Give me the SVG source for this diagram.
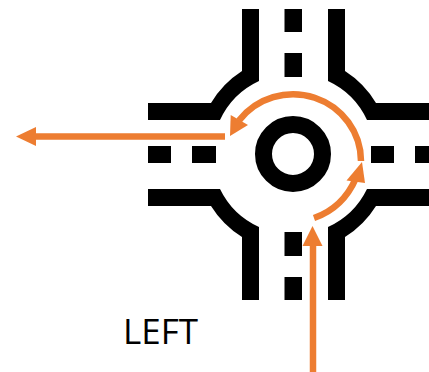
<svg xmlns="http://www.w3.org/2000/svg" width="429" height="372" viewBox="0 0 429 372">
<style>
.road{fill:#000}
.o{fill:none;stroke:#ed7d31;stroke-width:6.5}
.h{fill:#ed7d31}
text{font-family:"Open Sans","Liberation Sans",sans-serif;font-size:35.500px;fill:#000}
</style>
<rect width="429" height="372" fill="#fff"/>
<g id="roundabout">
<circle cx="293" cy="154" r="29.5" fill="none" stroke="#000" stroke-width="17"/>
</g>
<g id="road">
<path class="road" d="M242 9H259V81A80.500 80.500 0 0 0 220 120H148V103H211A97 97 0 0 1 242 71Z"/>
<path class="road" d="M345 9H328V81A80.500 80.500 0 0 1 367 120H429V103H376A97 97 0 0 0 345 71Z"/>
<path class="road" d="M242 300H259V227A80.500 80.500 0 0 1 220 189H148V206H211A97 97 0 0 0 242 237Z"/>
<path class="road" d="M345 300H328V227A80.500 80.500 0 0 0 367 189H429V206H376A97 97 0 0 1 345 237Z"/>
<rect class="road" x="284.500" y="9" width="17.500" height="23"/>
<rect class="road" x="284.500" y="53" width="17.500" height="24"/>
<rect class="road" x="284.500" y="232" width="17.500" height="24"/>
<rect class="road" x="284.500" y="277" width="17.500" height="23"/>
<rect class="road" x="148" y="146" width="23" height="17"/>
<rect class="road" x="192" y="146" width="24" height="17"/>
<rect class="road" x="371" y="146" width="23" height="17"/>
<rect class="road" x="415" y="146" width="14" height="17"/>
</g>
<g id="connectors">
<path class="o" d="M313 372V244"/>
<polygon class="h" points="312.500,226 322.500,246 302.500,246"/>
<path class="o" d="M314 218Q343 208 356 178"/>
<polygon class="h" points="362,162 365,183 346.500,180.500"/>
<path class="o" d="M361 161A68 67 0 0 0 239 120.500"/>
<polygon class="h" points="230,136 230.700,115 248,125"/>
<path class="o" d="M225 136.500H34"/>
<polygon class="h" points="16,136.500 36,127 36,146"/>
</g>
<text x="123" y="343.500" textLength="75" lengthAdjust="spacingAndGlyphs">LEFT</text>
</svg>
